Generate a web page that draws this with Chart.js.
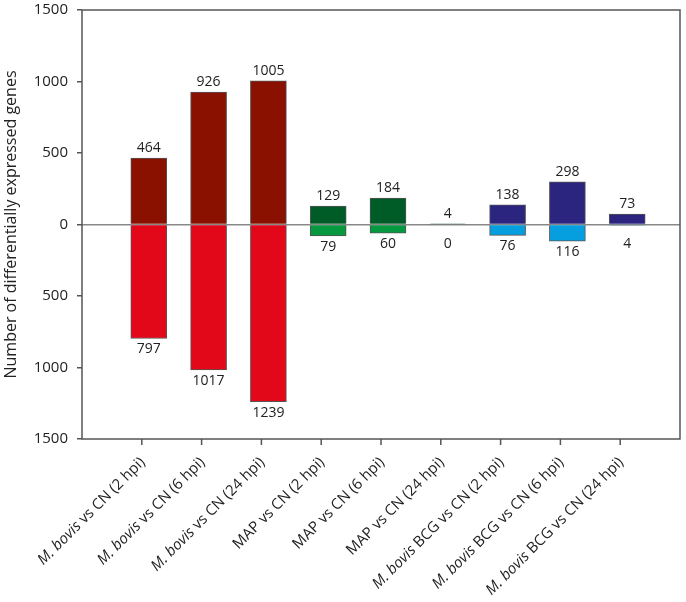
<!DOCTYPE html>
<html>
<head>
<meta charset="utf-8">
<script src="https://cdn.jsdelivr.net/npm/chart.js@4.4.1/dist/chart.umd.min.js"></script>
<style>
  body { margin: 0; background: #fff; }
  #wrap { width: 686px; height: 602px; }
</style>
</head>
<body>
<div id="wrap"><canvas id="chart" width="686" height="602"></canvas></div>
<script>
const categories = [
  'M. bovis vs CN (2 hpi)', 'M. bovis vs CN (6 hpi)', 'M. bovis vs CN (24 hpi)',
  'MAP vs CN (2 hpi)', 'MAP vs CN (6 hpi)', 'MAP vs CN (24 hpi)',
  'M. bovis BCG vs CN (2 hpi)', 'M. bovis BCG vs CN (6 hpi)', 'M. bovis BCG vs CN (24 hpi)'
];
const upValues = [464, 926, 1005, 129, 184, 4, 138, 298, 73];
const downValues = [797, 1017, 1239, 79, 60, 0, 76, 116, 4];
const yTicks = [-1500, -1000, -500, 0, 500, 1000, 1500];

const upColors = ['#8a1100', '#005c27', '#2b2580'];
const downColors = ['#e2081a', '#05983f', '#059fe0'];
const italicPart = 'M. bovis';
const font = '"Open Sans", "Noto Sans", sans-serif';
const slots = categories.length + 1;
const barShift = 0.117; // bars sit a little right of the tick marks

const barPoints = vals => vals.map((v, i) => ({ x: i + 1, y: v }));

// value labels, x labels with italic species, tick marks, frame
const decor = {
  id: 'decor',
  afterDatasetsDraw(chart) {
    const ctx = chart.ctx;
    const area = chart.chartArea;
    const xs = chart.scales.x;
    const y = chart.scales.y;
    ctx.save();
    ctx.fillStyle = '#222';
    ctx.font = '14px ' + font;
    ctx.textAlign = 'center';
    chart.getDatasetMeta(0).data.forEach((bar, i) => {
      ctx.textBaseline = 'bottom';
      ctx.fillText(String(upValues[i]), bar.x, bar.y - 3);
    });
    chart.getDatasetMeta(1).data.forEach((bar, i) => {
      ctx.textBaseline = 'top';
      ctx.fillText(String(downValues[i]), bar.x, Math.max(bar.y, y.getPixelForValue(-60)) + 4);
    });

    ctx.strokeStyle = '#555';
    ctx.lineWidth = 1.5;
    ctx.strokeRect(area.left, area.top, area.right - area.left, area.bottom - area.top);

    categories.forEach((c, i) => {
      const px = xs.getPixelForValue(i + 1);
      ctx.beginPath();
      ctx.moveTo(px, area.bottom);
      ctx.lineTo(px, area.bottom + 6);
      ctx.stroke();

      const parts = c.startsWith(italicPart)
        ? [[italicPart, 'italic'], [c.slice(italicPart.length), 'normal']]
        : [[c, 'normal']];
      ctx.save();
      ctx.translate(px + 1, area.bottom + 21);
      ctx.rotate(-Math.PI / 4);
      ctx.textBaseline = 'middle';
      ctx.textAlign = 'left';
      let total = 0;
      parts.forEach(p => { ctx.font = p[1] + ' 15px ' + font; total += ctx.measureText(p[0]).width; });
      let cx = -total;
      parts.forEach(p => {
        ctx.font = p[1] + ' 15px ' + font;
        ctx.fillText(p[0], cx, 0);
        cx += ctx.measureText(p[0]).width;
      });
      ctx.restore();
    });
    ctx.restore();
  }
};

new Chart(document.getElementById('chart'), {
  type: 'bar',
  data: {
    datasets: [
      {
        label: 'up',
        data: barPoints(upValues),
        xAxisID: 'xb',
        backgroundColor: upValues.map((v, i) => upColors[Math.floor(i / 3)]),
        borderColor: '#555',
        borderWidth: 1,
        barThickness: 36,
        grouped: false
      },
      {
        label: 'down',
        data: barPoints(downValues.map(v => -v)),
        xAxisID: 'xb',
        backgroundColor: downValues.map((v, i) => downColors[Math.floor(i / 3)]),
        borderColor: '#555',
        borderWidth: 1,
        barThickness: 36,
        grouped: false
      }
    ]
  },
  options: {
    responsive: false,
    animation: false,
    devicePixelRatio: 1,
    layout: { padding: { top: 10, right: 6, left: 0, bottom: 0 } },
    plugins: { legend: { display: false }, tooltip: { enabled: false } },
    scales: {
      x: {
        type: 'linear',
        min: 0,
        max: slots,
        offset: false,
        ticks: { display: false },
        grid: { display: false },
        border: { display: false },
        afterFit: s => { s.height = 163; s.paddingLeft = 0; s.paddingRight = 0; }
      },
      xb: {
        type: 'linear',
        display: false,
        offset: false,
        min: -barShift,
        max: slots - barShift
      },
      y: {
        min: yTicks[0],
        max: yTicks[yTicks.length - 1],
        afterBuildTicks: s => { s.ticks = yTicks.map(v => ({ value: v })); },
        ticks: {
          callback: v => Math.abs(v),
          color: '#222',
          padding: 9,
          font: { size: 15, family: font }
        },
        grid: {
          drawOnChartArea: true,
          color: c => (c.tick && c.tick.value === 0 ? '#888' : 'rgba(0,0,0,0)'),
          tickColor: '#555',
          tickLength: 5,
          lineWidth: 1.5
        },
        border: { display: false },
        title: {
          display: true,
          text: 'Number of differentially expressed genes',
          color: '#222',
          font: { size: 16, family: font },
          padding: { top: 2, bottom: 2 }
        },
        afterFit: s => { s.width = 82; s.paddingTop = 0; s.paddingBottom = 0; }
      }
    }
  },
  plugins: [decor]
});
</script>
</body>
</html>
